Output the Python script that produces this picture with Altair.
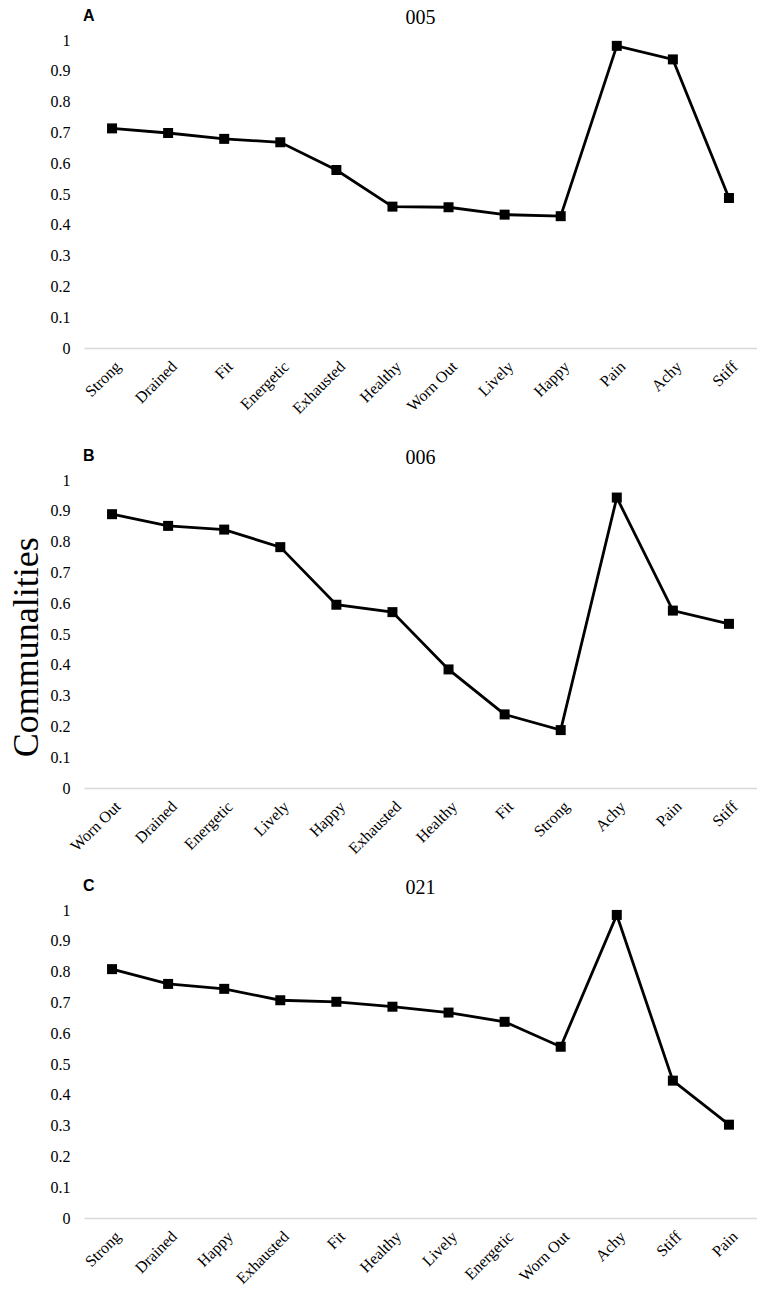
import altair as alt
import pandas as pd

# Panel A (005)
cats_A = ["Strong", "Drained", "Fit", "Energetic", "Exhausted", "Healthy",
          "Worn Out", "Lively", "Happy", "Pain", "Achy", "Stiff"]
vals_A = [0.713, 0.698, 0.679, 0.668, 0.578, 0.459, 0.457, 0.433, 0.428, 0.981, 0.937, 0.487]

# Panel B (006)
cats_B = ["Worn Out", "Drained", "Energetic", "Lively", "Happy", "Exhausted",
          "Healthy", "Fit", "Strong", "Achy", "Pain", "Stiff"]
vals_B = [0.889, 0.851, 0.839, 0.782, 0.595, 0.571, 0.385, 0.239, 0.188, 0.943, 0.576, 0.533]

# Panel C (021)
cats_C = ["Strong", "Drained", "Happy", "Exhausted", "Fit", "Healthy",
          "Lively", "Energetic", "Worn Out", "Achy", "Stiff", "Pain"]
vals_C = [0.808, 0.760, 0.744, 0.707, 0.702, 0.686, 0.667, 0.637, 0.556, 0.984, 0.446, 0.303]

y_ticks = [0, 0.1, 0.2, 0.3, 0.4, 0.5, 0.6, 0.7, 0.8, 0.9, 1]

SERIF = "Liberation Serif"
SANS = "Liberation Sans"


def panel(cats, vals, title, letter):
    df = pd.DataFrame({"item": cats, "value": vals})
    base = alt.Chart(df).encode(
        x=alt.X("item:N", sort=cats,
                axis=alt.Axis(title=None, labelAngle=-45, labelFont=SERIF, labelFontSize=16,
                              labelColor="black", labelPadding=10, ticks=False,
                              domainColor="#d9d9d9", domainWidth=1.5, grid=False)),
        y=alt.Y("value:Q", scale=alt.Scale(domain=[0, 1], nice=False),
                axis=alt.Axis(title=None, values=y_ticks, format="~g", labelFont=SERIF,
                              labelFontSize=16, labelColor="black", labelPadding=14,
                              ticks=False, domain=False, grid=False)),
    )
    line = base.mark_line(color="black", strokeWidth=2.8)
    pts = base.mark_point(shape="square", filled=True, size=100, color="black", opacity=1)
    lab = alt.Chart(pd.DataFrame({"t": [letter]})).mark_text(
        align="left", baseline="alphabetic", font=SANS, fontWeight="bold",
        fontSize=16, color="black"
    ).encode(text="t:N", x=alt.value(-1), y=alt.value(-19))
    return alt.layer(line, pts, lab).properties(
        width=673, height=308,
        title=alt.TitleParams(title, font=SERIF, fontSize=20, fontWeight="normal",
                              color="black", offset=-20),
    )


top_two = alt.vconcat(
    panel(cats_A, vals_A, "005", "A"),
    panel(cats_B, vals_B, "006", "B"),
    spacing=31,
)

chart = alt.vconcat(
    top_two,
    panel(cats_C, vals_C, "021", "C"),
    spacing=21,
).properties(
    title=alt.TitleParams("Communalities", orient="left", anchor="middle", font=SERIF,
                          fontSize=36, fontWeight="normal", color="black", offset=4),
    padding=0,
).configure_view(stroke=None).configure_axis(labelFont=SERIF)

chart.save("out.html", embed_options={"renderer": "svg", "actions": False})
